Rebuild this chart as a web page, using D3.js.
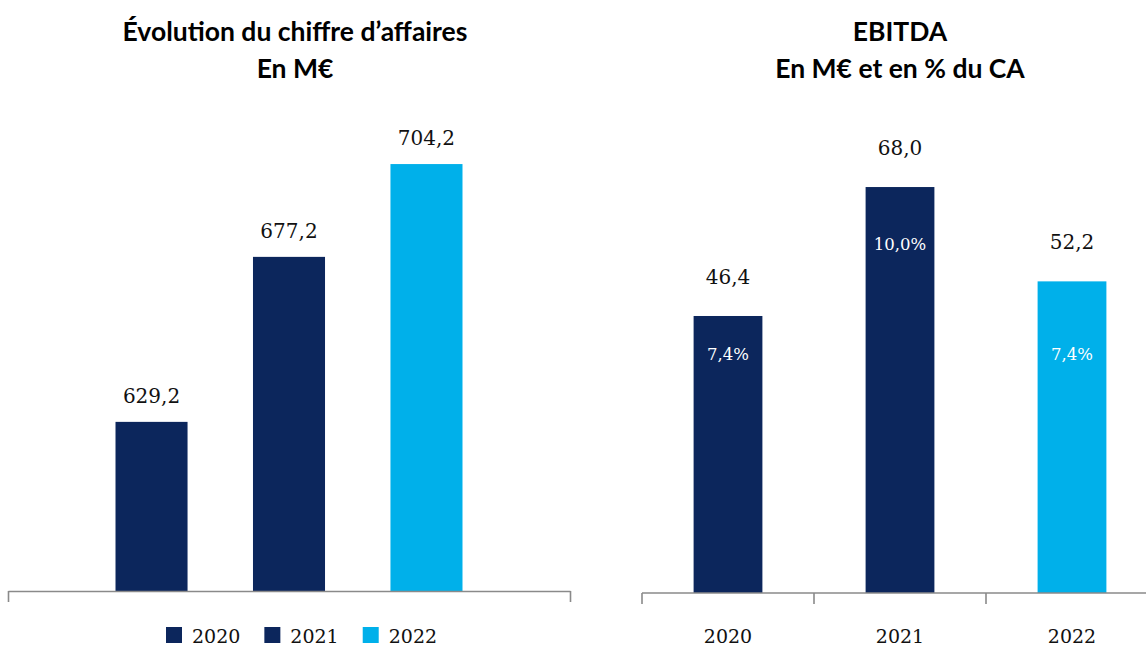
<!DOCTYPE html>
<html>
<head>
<meta charset="utf-8">
<script src="https://cdn.jsdelivr.net/npm/d3@7"></script>
<style>
  html, body { margin: 0; padding: 0; background: #ffffff; }
  svg { display: block; }
</style>
</head>
<body>
<svg id="chart" width="1146" height="646"></svg>
<script>
// ---- Data ----
const years = ["2020", "2021", "2022"];
const revenue = [629.2, 677.2, 704.2];          // Chiffre d'affaires, M€
const revenueLabels = ["629,2", "677,2", "704,2"];
const ebitda = [46.4, 68.0, 52.2];               // EBITDA, M€
const ebitdaLabels = ["46,4", "68,0", "52,2"];
const margin = [7.4, 10.0, 7.4];                 // EBITDA en % du CA
const marginLabels = ["7,4%", "10,0%", "7,4%"];
const barColors = ["#0c265c", "#0c265c", "#00b0ea"];
const titleLeft = ["Évolution du chiffre d’affaires", "En M€"];
const titleRight = ["EBITDA", "En M€ et en % du CA"];

const svg = d3.select("#chart");
const serif = "'DejaVu Serif', serif";
const sans = "Lato, 'Open Sans', sans-serif";
const axisColor = "#8a8a8a";

// ---- Titles ----
function title(lines, cx) {
  const t = svg.append("text")
    .attr("text-anchor", "middle")
    .attr("font-family", sans)
    .attr("font-weight", 700)
    .attr("font-size", 26.5)
    .attr("fill", "#000");
  lines.forEach((l, i) => {
    t.append("tspan").attr("x", cx).attr("y", 41 + i * 36.5).text(l);
  });
}
title(titleLeft, 295);
title(titleRight, 900);

// ---- Left chart: revenue ----
const xL = d3.scaleBand().domain(years).range([8, 570])
  .paddingInner(0.476).paddingOuter(0.782);
const yL = d3.scaleLinear().domain([580, 740]).range([591, 41]);

const gL = svg.append("g");
gL.selectAll("rect").data(years).join("rect")
  .attr("x", d => xL(d))
  .attr("y", (d, i) => yL(revenue[i]))
  .attr("width", xL.bandwidth())
  .attr("height", (d, i) => yL(580) - yL(revenue[i]))
  .attr("fill", (d, i) => barColors[i]);

gL.selectAll("text.val").data(years).join("text")
  .attr("class", "val")
  .attr("x", d => xL(d) + xL.bandwidth() / 2)
  .attr("y", (d, i) => yL(revenue[i]) - 19)
  .attr("text-anchor", "middle")
  .attr("font-family", serif)
  .attr("font-size", 20)
  .attr("fill", "#111")
  .text((d, i) => revenueLabels[i]);

// left axis: single category spanning whole range, ticks at edges
const [l0, l1] = xL.range();
const axL = d3.axisBottom(d3.scaleLinear().domain([0, 1]).range([l0, l1]))
  .tickValues([0, 1]).tickSize(11).tickSizeOuter(0).tickFormat("");
const axisLG = svg.append("g").attr("transform", `translate(0,${yL(580)})`).call(axL);
axisLG.selectAll("path, line").attr("stroke", axisColor).attr("stroke-width", 1.6);

// legend
let lx = 166;
const leg = svg.append("g");
years.forEach((y, i) => {
  leg.append("rect").attr("x", lx).attr("y", 627).attr("width", 16).attr("height", 16)
    .attr("fill", barColors[i]);
  const t = leg.append("text").attr("x", lx + 26).attr("y", 643)
    .attr("font-family", serif).attr("font-size", 19).attr("fill", "#111").text(y);
  lx += 26 + t.node().getComputedTextLength() + 24;
});

// ---- Right chart: EBITDA ----
const xR = d3.scaleBand().domain(years).range([642, 1158])
  .paddingInner(0.6).paddingOuter(0.3);
const yR = d3.scaleLinear().domain([0, 80]).range([593, 593 - 80 * 5.97]);
const yM = d3.scaleLinear().domain([0, 12]).range([673, 165]); // secondary axis for margin %

const gR = svg.append("g");
gR.selectAll("rect").data(years).join("rect")
  .attr("x", d => xR(d))
  .attr("y", (d, i) => yR(ebitda[i]))
  .attr("width", xR.bandwidth())
  .attr("height", (d, i) => yR(0) - yR(ebitda[i]))
  .attr("fill", (d, i) => barColors[i]);

gR.selectAll("text.val").data(years).join("text")
  .attr("class", "val")
  .attr("x", d => xR(d) + xR.bandwidth() / 2)
  .attr("y", (d, i) => yR(ebitda[i]) - 32)
  .attr("text-anchor", "middle")
  .attr("font-family", serif)
  .attr("font-size", 20)
  .attr("fill", "#111")
  .text((d, i) => ebitdaLabels[i]);

gR.selectAll("text.pct").data(years).join("text")
  .attr("class", "pct")
  .attr("x", d => xR(d) + xR.bandwidth() / 2)
  .attr("y", (d, i) => yM(margin[i]))
  .attr("text-anchor", "middle")
  .attr("font-family", serif)
  .attr("font-size", 16.5)
  .attr("fill", "#ffffff")
  .text((d, i) => marginLabels[i]);

// right axis: ticks at category boundaries, labels at centers
const step = xR.step();
const boundaries = d3.range(years.length + 1).map(i => xR.range()[0] + i * step);
const axR = svg.append("g").attr("transform", `translate(0,${yR(0)})`);
axR.append("line").attr("x1", boundaries[0]).attr("x2", boundaries[boundaries.length - 1])
  .attr("y1", 0).attr("y2", 0).attr("stroke", axisColor).attr("stroke-width", 1.6);
axR.selectAll("line.tick").data(boundaries).join("line")
  .attr("class", "tick")
  .attr("x1", d => d).attr("x2", d => d)
  .attr("y1", 0).attr("y2", 11)
  .attr("stroke", axisColor).attr("stroke-width", 1.6);
axR.selectAll("text").data(years).join("text")
  .attr("x", d => xR(d) + xR.bandwidth() / 2)
  .attr("y", 50)
  .attr("text-anchor", "middle")
  .attr("font-family", serif)
  .attr("font-size", 19)
  .attr("fill", "#111")
  .text(d => d);
</script>
</body>
</html>
